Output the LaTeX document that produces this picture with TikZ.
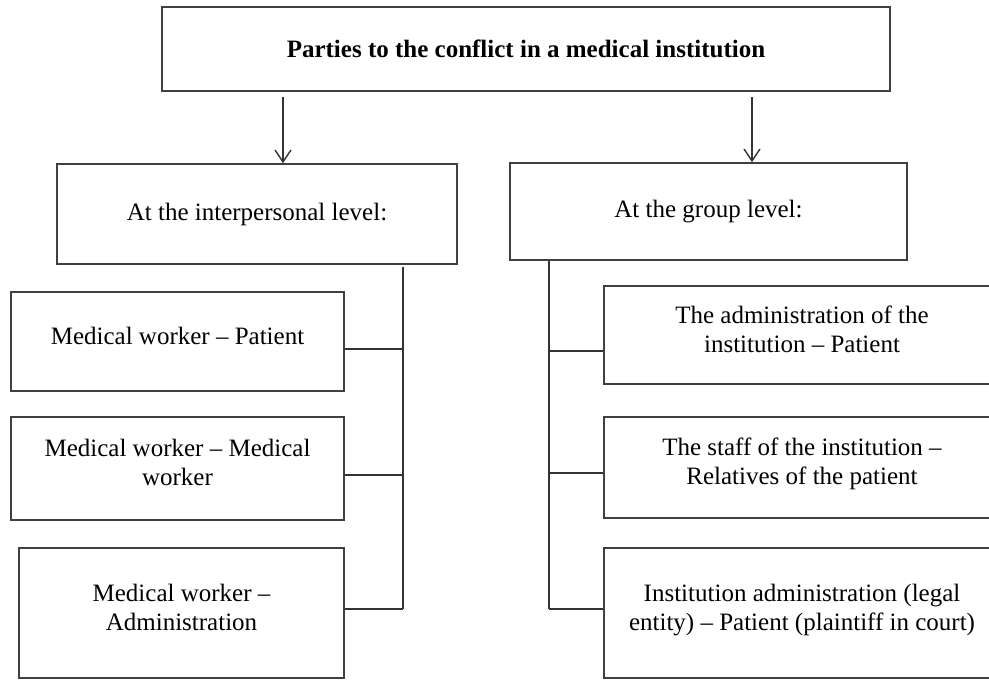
\documentclass[tikz,border=0pt]{standalone}
\usepackage{fontspec}
\setmainfont{Liberation Serif}
\usetikzlibrary{arrows.meta,positioning}

\begin{document}
\begin{tikzpicture}[
        x=0.5pt, y=-0.5pt,
        font=\fontsize{12.5}{14.5}\selectfont,
        box/.style={draw=black!75, line width=0.8pt, align=center, inner sep=2pt},
        pair/.style={box, text depth=6pt},
        link/.style={draw=black!80, line width=0.7pt},
        arrow/.style={link, -{Straight Barb[length=6pt, width=8pt]}}
    ]
        \useasboundingbox (0,0) rectangle (989,679);
        \clip (0,0) rectangle (989,679);

        \node[box, minimum width=364pt, minimum height=42pt] (title) at (526,49)
            {\textbf{Parties to the conflict in a medical institution}};

        \node[box, minimum width=200pt, minimum height=50pt] (inter) at (257,214) {At the interpersonal level:};
        \node[box, minimum width=198.5pt, minimum height=48.5pt] (group) at (708.5,211.5) {At the group level:};

        \node[pair, minimum width=166.5pt, minimum height=49.5pt] (lw1) at (177.5,341.5) {Medical worker -- Patient};
        \node[pair, minimum width=166.5pt, minimum height=51.5pt] (lw2) at (177.5,468.5) {Medical worker -- Medical\\worker};
        \node[pair, minimum width=162.5pt, minimum height=65pt] (lw3) at (181.5,613) {Medical worker --\\Administration};

        \node[pair, minimum width=198pt, minimum height=49pt] (rw1) at (802,335) {The administration of the\\institution -- Patient};
        \node[pair, minimum width=198pt, minimum height=50.5pt] (rw2) at (802,467.5) {The staff of the institution --\\Relatives of the patient};
        \node[pair, minimum width=198pt, minimum height=65pt] (rw3) at (802,613) {Institution administration (legal\\entity) -- Patient (plaintiff in court)};

        % arrows from the title
        \coordinate (aL) at (283,97);
        \coordinate (aR) at (752,97);
        \draw[arrow] (aL) -- (aL |- inter.north);
        \draw[arrow] (aR) -- (aR |- group.north);

        % side spines
        \coordinate (spineL) at (403,267);
        \coordinate (spineR) at (549,260);
        \draw[link] (spineL) -- (spineL |- 0,609);
        \draw[link] (group.south -| spineR) -- (spineR |- 0,609);
        \foreach \b/\y in {lw1/349, lw2/475, lw3/609}
            \draw[link] (\b.east |- 0,\y) -- (spineL |- 0,\y);
        \foreach \b/\y in {rw1/351, rw2/473, rw3/609}
            \draw[link] (spineR |- 0,\y) -- (\b.west |- 0,\y);
    \end{tikzpicture}
\end{document}
